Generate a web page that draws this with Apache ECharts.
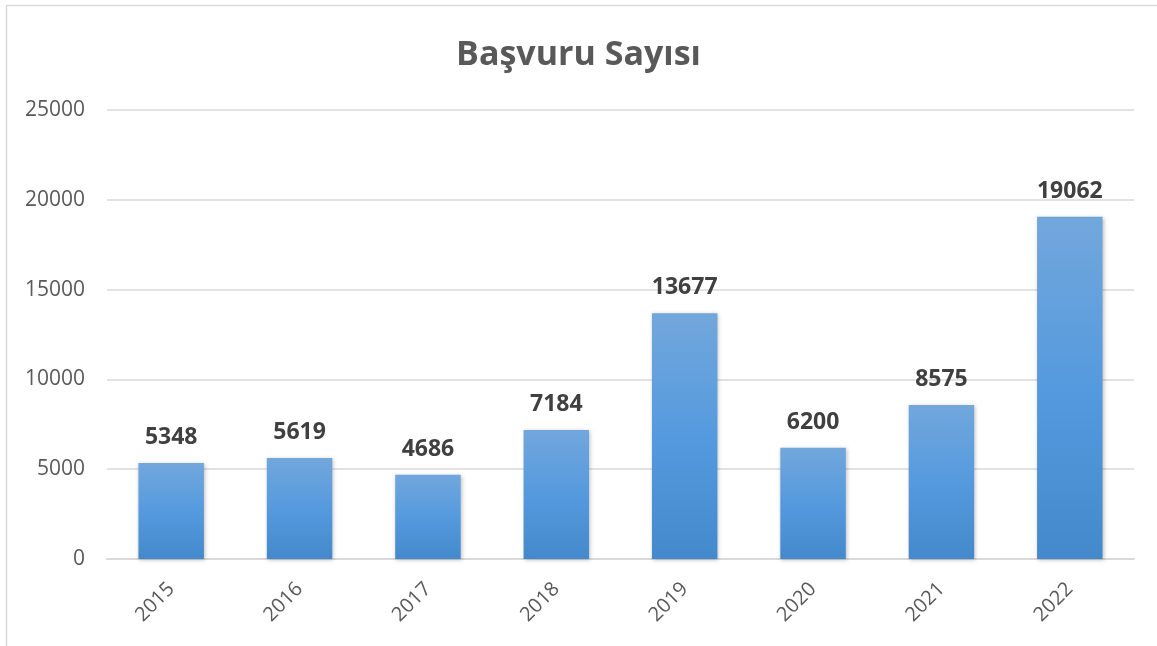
<!DOCTYPE html>
<html>
<head>
<meta charset="utf-8">
<script src="https://cdn.jsdelivr.net/npm/echarts@6/dist/echarts.min.js"></script>
<style>
  html, body { margin: 0; padding: 0; background: #fff; }
  #chart { width: 1157px; height: 646px; }
</style>
</head>
<body>
<div id="chart"></div>
<script>
// Başvuru sayısı, yıllara göre
var years = ['2015', '2016', '2017', '2018', '2019', '2020', '2021', '2022'];
var counts = [5348, 5619, 4686, 7184, 13677, 6200, 8575, 19062];

var chart = echarts.init(document.getElementById('chart'));

var option = {
    animation: false,
    title: {
        text: 'Başvuru Sayısı',
        left: 'center',
        top: 33,
        textStyle: {
            fontFamily: 'Open Sans',
            fontSize: 34,
            fontWeight: 'bold',
            color: '#595959'
        }
    },
    graphic: [
        {
            type: 'rect',
            shape: { x: 6.5, y: 5.5, width: 1160, height: 700 },
            style: { fill: 'none', stroke: '#d9d9d9', lineWidth: 1.5 },
            silent: true
        }
    ],
    grid: {
        left: 107,
        right: 23,
        top: 110,
        bottom: 87
    },
    xAxis: {
        type: 'category',
        data: years,
        axisTick: { show: false },
        axisLine: { lineStyle: { color: '#d9d9d9', width: 2 } },
        axisLabel: {
            rotate: 45,
            margin: 27,
            fontFamily: 'Open Sans',
            fontSize: 20,
            color: '#595959'
        }
    },
    yAxis: {
        type: 'value',
        min: 0,
        max: 25000,
        interval: 5000,
        axisLine: { show: false },
        axisTick: { show: false },
        splitLine: { lineStyle: { color: '#d9d9d9', width: 1.5 } },
        axisLabel: {
            margin: 22,
            fontFamily: 'Open Sans',
            fontSize: 21,
            color: '#595959',
            formatter: function (v) { return String(v); }
        }
    },
    series: [
        {
            name: 'Başvuru Sayısı',
            type: 'bar',
            data: counts,
            barWidth: '51%',
            itemStyle: {
                color: new echarts.graphic.LinearGradient(0, 0, 0, 1, [
                    { offset: 0, color: '#72a7dc' },
                    { offset: 0.5, color: '#559ade' },
                    { offset: 1, color: '#4489cb' }
                ]),
                shadowColor: 'rgba(0,0,0,0.25)',
                shadowBlur: 4,
                shadowOffsetX: 1,
                shadowOffsetY: 1
            },
            label: {
                show: true,
                position: 'top',
                distance: 14,
                fontFamily: 'Open Sans',
                fontSize: 23,
                fontWeight: 'bold',
                color: '#404040'
            }
        }
    ]
};

chart.setOption(option);
</script>
</body>
</html>
